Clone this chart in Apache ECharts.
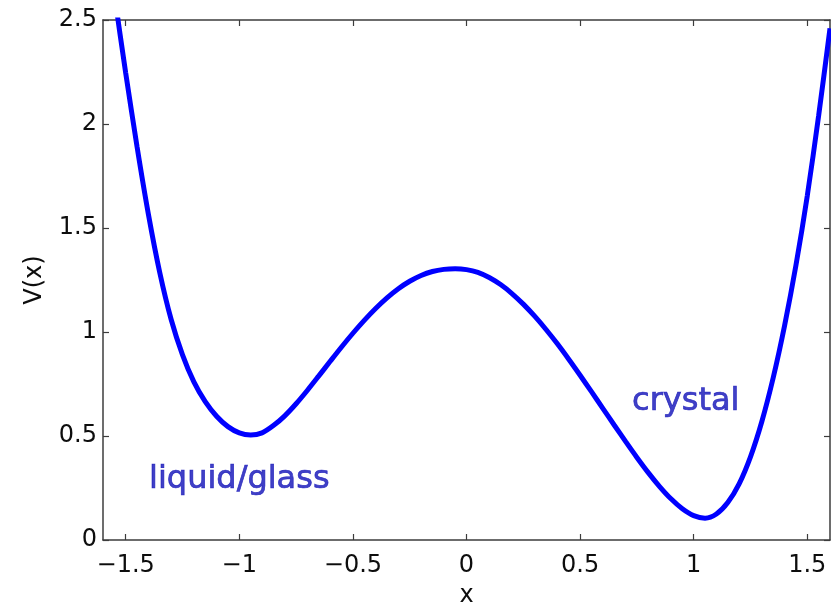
<!DOCTYPE html>
<html>
<head>
<meta charset="utf-8">
<script src="https://cdn.jsdelivr.net/npm/echarts@6/dist/echarts.min.js"></script>
<style>
  html, body { margin: 0; padding: 0; background: #ffffff; }
  #chart { width: 831px; height: 602px; }
</style>
</head>
<body>
<div id="chart"></div>
<script>
// Double-well potential V(x), sampled every 0.05 along the curve
const xs = [-1.60, -1.55, -1.50, -1.45, -1.40, -1.35, -1.30, -1.25, -1.20, -1.15,
            -1.10, -1.05, -1.00, -0.95, -0.90, -0.85, -0.80, -0.75, -0.70, -0.65,
            -0.60, -0.55, -0.50, -0.45, -0.40, -0.35, -0.30, -0.25, -0.20, -0.15,
            -0.10, -0.05, 0.00, 0.05, 0.10, 0.15, 0.20, 0.25, 0.30, 0.35,
            0.40, 0.45, 0.50, 0.55, 0.60, 0.65, 0.70, 0.75, 0.80, 0.85,
            0.90, 0.95, 1.00, 1.05, 1.10, 1.15, 1.20, 1.25, 1.30, 1.35,
            1.40, 1.45, 1.50, 1.55, 1.60];
const vs = [3.03, 2.625, 2.245, 1.89, 1.565, 1.285, 1.06, 0.89, 0.76, 0.665,
            0.595, 0.545, 0.515, 0.505, 0.515, 0.55, 0.597, 0.655, 0.72, 0.789,
            0.859, 0.928, 0.994, 1.056, 1.113, 1.164, 1.208, 1.244, 1.272, 1.291,
            1.301, 1.304, 1.30, 1.287, 1.262, 1.228, 1.185, 1.134, 1.076, 1.012,
            0.943, 0.869, 0.792, 0.713, 0.633, 0.553, 0.474, 0.397, 0.324, 0.257,
            0.198, 0.15, 0.117, 0.105, 0.125, 0.18, 0.27, 0.40, 0.57, 0.78,
            1.03, 1.32, 1.655, 2.04, 2.46];

// Axis ticks and their labels
const xTicks = [-1.5, -1, -0.5, 0, 0.5, 1, 1.5];
const xTickLabels = ['\u22121.5', '\u22121', '\u22120.5', '0', '0.5', '1', '1.5'];
const yTicks = [0, 0.5, 1, 1.5, 2, 2.5];
const yTickLabels = ['0', '0.5', '1', '1.5', '2', '2.5'];

// Names of the two wells, placed in data coordinates
const wellNames = ['liquid/glass', 'crystal'];
const wellX = [-1.00, 0.965];
const wellY = [0.29, 0.665];

const FONT = 'DejaVu Sans';
const AXIS_COLOR = '#3c3c3c';
const TEXT_COLOR = '#0d0d0d';

function labelFor(ticks, labels) {
  return function (v) {
    for (let i = 0; i < ticks.length; i++) {
      if (Math.abs(ticks[i] - v) < 1e-9) return labels[i];
    }
    return '';
  };
}

const boxLine = { show: true, onZero: false, lineStyle: { color: AXIS_COLOR, width: 1.5 } };
const tickStyle = { color: AXIS_COLOR, width: 1.2 };

const chart = echarts.init(document.getElementById('chart'), null, { renderer: 'canvas' });

chart.setOption({
  backgroundColor: '#ffffff',
  animation: false,
  grid: { left: 103, right: 1, top: 20, bottom: 62, containLabel: false, outerBoundsMode: 'none' },
  xAxis: [
    {
      type: 'value', position: 'bottom', min: -1.6, max: 1.6,
      name: 'x', nameLocation: 'middle', nameGap: 44,
      nameTextStyle: { fontFamily: FONT, fontSize: 24, color: TEXT_COLOR },
      axisLine: boxLine,
      axisTick: { show: true, inside: true, length: 6, customValues: xTicks, lineStyle: tickStyle },
      axisLabel: { show: true, customValues: xTicks, formatter: labelFor(xTicks, xTickLabels),
                   fontFamily: FONT, fontSize: 24, color: TEXT_COLOR, margin: 14 },
      splitLine: { show: false }
    },
    {
      type: 'value', position: 'top', min: -1.6, max: 1.6,
      axisLine: boxLine,
      axisTick: { show: true, inside: true, length: 6, customValues: xTicks, lineStyle: tickStyle },
      axisLabel: { show: false },
      splitLine: { show: false }
    }
  ],
  yAxis: [
    {
      type: 'value', position: 'left', min: 0, max: 2.5, interval: 0.5,
      name: 'V(x)', nameLocation: 'middle', nameRotate: 90, nameGap: 56,
      nameTextStyle: { fontFamily: FONT, fontSize: 24, color: TEXT_COLOR },
      axisLine: boxLine,
      axisTick: { show: true, inside: true, length: 6, lineStyle: tickStyle },
      axisLabel: { show: true, formatter: labelFor(yTicks, yTickLabels),
                   fontFamily: FONT, fontSize: 24, color: TEXT_COLOR, margin: 6 },
      splitLine: { show: false }
    },
    {
      type: 'value', position: 'right', min: 0, max: 2.5, interval: 0.5,
      axisLine: boxLine,
      axisTick: { show: true, inside: true, length: 6, lineStyle: tickStyle },
      axisLabel: { show: false },
      splitLine: { show: false }
    }
  ],
  series: [
    {
      name: 'V(x)',
      type: 'line',
      xAxisIndex: 0, yAxisIndex: 0,
      data: xs.map((x, i) => [x, vs[i]]),
      smooth: 0.3,
      smoothMonotone: 'none',
      showSymbol: false,
      clip: true,
      lineStyle: { color: '#0000ff', width: 5 },
      z: 3
    },
    {
      name: 'wells',
      type: 'scatter',
      xAxisIndex: 0, yAxisIndex: 0,
      data: wellNames.map((n, i) => [wellX[i], wellY[i], n]),
      symbolSize: 0,
      silent: true,
      label: {
        show: true, position: 'inside',
        formatter: p => p.data[2],
        fontFamily: FONT, fontSize: 32, color: '#1010b8',
        textBorderColor: '#1010b8', textBorderWidth: 0.7
      },
      z: 4
    }
  ]
});
</script>
</body>
</html>
